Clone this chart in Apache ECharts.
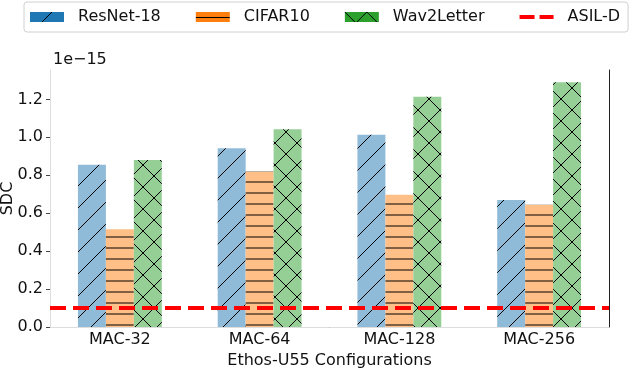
<!DOCTYPE html>
<html>
<head>
<meta charset="utf-8">
<script src="https://cdn.jsdelivr.net/npm/echarts@6/dist/echarts.min.js"></script>
<style>
    html, body { margin: 0; padding: 0; background: #fff; }
    #sdc { width: 640px; height: 370px; }
</style>
</head>
<body>
<div id="sdc"></div>
<script>
    // data (units of 1e-15)
    let categories = ['MAC-32', 'MAC-64', 'MAC-128', 'MAC-256'];
    let resnet = [0.855, 0.943, 1.013, 0.669];
    let cifar = [0.515, 0.820, 0.697, 0.645];
    let wav2letter = [0.880, 1.043, 1.214, 1.291];
    let asilD = 0.1;
    let yTicks = [0, 0.2, 0.4, 0.6, 0.8, 1.0, 1.2];

    let font = 'DejaVu Sans';

    // hatch tile: kind = '/', '-', 'x'
    function hatch(bg, kind, size) {
        let c = document.createElement('canvas');
        c.width = size;
        c.height = size;
        let ctx = c.getContext('2d');
        ctx.fillStyle = bg;
        ctx.fillRect(0, 0, size, size);
        ctx.strokeStyle = '#000';
        ctx.lineWidth = 1;
        ctx.beginPath();
        if (kind === '-') {
            ctx.moveTo(0, size / 2 + 0.5);
            ctx.lineTo(size, size / 2 + 0.5);
        }
        if (kind === '/' || kind === 'x') {
            ctx.moveTo(-1, 1); ctx.lineTo(1, -1);
            ctx.moveTo(0, size); ctx.lineTo(size, 0);
            ctx.moveTo(size - 1, size + 1); ctx.lineTo(size + 1, size - 1);
        }
        if (kind === 'x') {
            ctx.moveTo(0, 0); ctx.lineTo(size, size);
            ctx.moveTo(-1, size - 1); ctx.lineTo(1, size + 1);
            ctx.moveTo(size - 1, -1); ctx.lineTo(size + 1, 1);
        }
        ctx.stroke();
        return {image: c, repeat: 'repeat'};
    }

    let myChart = echarts.init(document.getElementById('sdc'), null, {renderer: 'canvas'});

    let labelStyle = {fontFamily: font, fontSize: 16, color: '#111'};

    let option = {
        animation: false,
        legend: {
            left: 24,
            top: 2,
            padding: [7, 8, 7, 6],
            itemWidth: 34,
            itemHeight: 10,
            itemGap: 35,
            borderColor: '#d0d0d0',
            borderWidth: 1,
            borderRadius: 3,
            selectedMode: false,
            textStyle: {fontFamily: font, fontSize: 16, color: '#111', padding: [0, 0, 0, 9]},
            data: [
                {name: 'ResNet-18', icon: 'rect', itemStyle: {color: hatch('#1f77b4', '/', 22)}},
                {name: 'CIFAR10', icon: 'rect', itemStyle: {color: hatch('#ff7f0e', '-', 10)}},
                {name: 'Wav2Letter', icon: 'rect', itemStyle: {color: hatch('#2ca02c', 'x', 22)}},
                {name: 'ASIL-D', icon: 'path://M0,0h15v4h-15zM20,0h14v4h-14z', itemStyle: {color: '#ff0000'}}
            ]
        },
        grid: {
            left: 50,
            right: 31,
            top: 70,
            bottom: 43,
            outerBoundsMode: 'none'
        },
        graphic: [{
            type: 'text',
            left: 53,
            top: 52,
            style: {text: '1e\u221215', font: '16px "DejaVu Sans"', fill: '#111'}
        }],
        xAxis: [{
            type: 'category',
            data: categories,
            name: 'Ethos-U55 Configurations',
            nameLocation: 'middle',
            nameGap: 24,
            nameTextStyle: labelStyle,
            axisLine: {lineStyle: {color: '#444', width: 1}},
            axisTick: {alignWithLabel: true, length: 4, lineStyle: {color: '#444'}},
            axisLabel: Object.assign({margin: 5}, labelStyle)
        }, {
            // top spine
            type: 'category',
            data: categories,
            position: 'top',
            axisLine: {lineStyle: {color: '#dddddd'}},
            axisTick: {show: false},
            axisLabel: {show: false}
        }],
        yAxis: [{
            type: 'value',
            min: 0,
            max: 1.355,
            name: 'SDC',
            nameLocation: 'middle',
            nameGap: 34,
            nameMoveOverlap: false,
            nameTextStyle: labelStyle,
            splitLine: {show: false},
            axisLine: {show: true, lineStyle: {color: '#dddddd'}},
            axisTick: {show: true, length: 4, customValues: yTicks, lineStyle: {color: '#444'}},
            axisLabel: Object.assign({
                margin: 7,
                customValues: yTicks,
                formatter: function (v) { return v.toFixed(1); }
            }, labelStyle)
        }, {
            // right spine
            type: 'value',
            min: 0,
            max: 1.355,
            position: 'right',
            splitLine: {show: false},
            axisLine: {show: true, lineStyle: {color: '#222'}},
            axisTick: {show: false},
            axisLabel: {show: false}
        }],
        series: [{
            name: 'ResNet-18',
            type: 'bar',
            data: resnet,
            barGap: '0%',
            barCategoryGap: '40%',
            itemStyle: {color: hatch('#8fbbd9', '/', 22)}
        }, {
            name: 'CIFAR10',
            type: 'bar',
            data: cifar,
            barGap: '0%',
            barCategoryGap: '40%',
            itemStyle: {color: hatch('#ffbf86', '-', 11)}
        }, {
            name: 'Wav2Letter',
            type: 'bar',
            data: wav2letter,
            barGap: '0%',
            barCategoryGap: '40%',
            itemStyle: {color: hatch('#95cf95', 'x', 22)}
        }, {
            name: 'ASIL-D',
            type: 'line',
            data: [],
            symbol: 'none',
            itemStyle: {color: '#ff0000'},
            markLine: {
                silent: true,
                symbol: ['none', 'none'],
                label: {show: false},
                lineStyle: {color: '#ff0000', width: 4, type: [16, 7]},
                data: [{yAxis: asilD}]
            }
        }]
    };

    myChart.setOption(option);
</script>
</body>
</html>
